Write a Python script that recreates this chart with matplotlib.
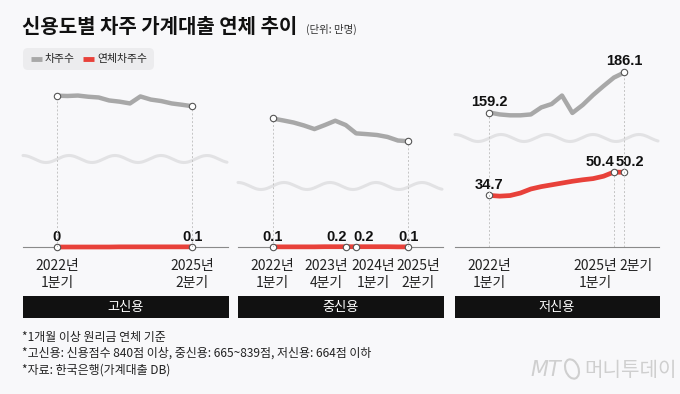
import numpy as np
import matplotlib
matplotlib.use("Agg")
import matplotlib.pyplot as plt
from matplotlib.patches import FancyBboxPatch, Rectangle, Ellipse

plt.rcParams['font.family'] = ['Noto Sans CJK KR', 'DejaVu Sans']

# ---------------- data (만명) ----------------
quarters = ["2022Q1", "2022Q2", "2022Q3", "2022Q4", "2023Q1", "2023Q2", "2023Q3",
            "2023Q4", "2024Q1", "2024Q2", "2024Q3", "2024Q4", "2025Q1", "2025Q2"]
panel_titles = ["고신용", "중신용", "저신용"]

high_borrowers = [1254.0, 1253.8, 1254.1, 1253.3, 1252.8, 1250.8, 1250.0,
                  1248.8, 1253.5, 1251.4, 1250.4, 1248.8, 1247.9, 1246.9]
high_delinquent = [0.0, 0.0, 0.0, 0.0, 0.0, 0.0, 0.1,
                   0.1, 0.1, 0.1, 0.1, 0.1, 0.1, 0.1]
mid_borrowers = [561.0, 559.7, 558.3, 556.3, 553.9, 556.6, 559.5,
                 556.6, 551.0, 550.5, 549.9, 548.6, 546.2, 545.7]
mid_delinquent = [0.1, 0.1, 0.1, 0.1, 0.1, 0.2, 0.2,
                  0.2, 0.2, 0.2, 0.2, 0.2, 0.1, 0.1]
low_borrowers = [159.2, 157.9, 157.3, 157.3, 157.9, 162.6, 164.9,
                 170.6, 158.9, 164.3, 171.0, 177.0, 182.7, 186.1]
low_delinquent = [34.7, 34.2, 34.6, 36.3, 39.0, 40.6, 41.8,
                  43.0, 44.2, 45.2, 46.0, 47.6, 50.4, 50.2]

# tick labels: (quarter index, text, x-shift px)
tick_labels = [
    [(0, "2022년\n1분기", 0), (13, "2025년\n2분기", 0)],
    [(0, "2022년\n1분기", 0), (7, "2023년\n4분기", -19), (8, "2024년\n1분기", 17), (13, "2025년\n2분기", 10)],
    [(0, "2022년\n1분기", 0), (12, "2025년\n1분기", -19), (13, "2분기", 12)],
]
# value labels: (series, index, dx px, dy px)
value_labels = [
    [("red", 0, 0, -10), ("red", 13, 0, -10)],
    [("red", 0, 0, -10), ("red", 7, -9, -10), ("red", 8, 7, -10), ("red", 13, 0, -10)],
    [("gray", 0, 0, -10), ("gray", 13, 0, -11.5), ("red", 0, 0, -10), ("red", 12, -14, -10), ("red", 13, 6, -10)],
]

# ---------------- layout ----------------
W, H = 680, 394
BG = '#f8f8fa'
GRAY = '#a8a8a8'
RED = '#e8413a'
S = 1.487           # px per 만명
AX_TOP, AX_BOT = 55, 247
NUM_FONT = ['Liberation Sans', 'Noto Sans CJK KR']
panels = [
    dict(L=23, R=228, x0=57.0, x13=192.5, g_y0=95.7, wave=159,
         g=high_borrowers, r=high_delinquent, red_marks=[0, 13], gray_marks=[0, 13],
         vlines_g=[0, 13], vlines_r=[]),
    dict(L=238, R=443, x0=272.7, x13=408.3, g_y0=118.5, wave=186,
         g=mid_borrowers, r=mid_delinquent, red_marks=[0, 7, 8, 13], gray_marks=[0, 13],
         vlines_g=[0, 13], vlines_r=[]),
    dict(L=455, R=659, x0=489.3, x13=624.3, g_y0=112.5, wave=138,
         g=low_borrowers, r=low_delinquent, red_marks=[0, 12, 13], gray_marks=[0, 13],
         vlines_g=[0, 13], vlines_r=[12]),
]

fig = plt.figure(figsize=(W / 100, H / 100), dpi=100, facecolor=BG)
ov = fig.add_axes([0, 0, 1, 1], zorder=0)
ov.set_xlim(0, W)
ov.set_ylim(H, 0)
ov.axis('off')

# title and unit
ov.text(22, 26, "신용도별 차주 가계대출 연체 추이", fontsize=14.4, fontweight='bold',
        color='#111111', va='center', ha='left')
ov.text(306, 29, "(단위: 만명)", fontsize=7.5, color='#333333', va='center', ha='left')

# legend
ov.add_patch(FancyBboxPatch((23, 48), 131, 22, boxstyle="round,pad=0,rounding_size=5",
                            fc='#ececee', ec='none'))
ov.plot([31, 42], [59, 59], color=GRAY, lw=3.5, solid_capstyle='butt')
ov.text(45, 59, "차주수", fontsize=7.8, va='center', ha='left', color='#222222')
ov.plot([83, 94], [59, 59], color=RED, lw=3.5, solid_capstyle='butt')
ov.text(97, 59, "연체차주수", fontsize=7.8, va='center', ha='left', color='#222222')

n = len(quarters)
idx = np.arange(n)
for k, p in enumerate(panels):
    L, R = p['L'], p['R']
    step = (p['x13'] - p['x0']) / (n - 1)
    rect = [L / W, 1 - AX_BOT / H, (R - L) / W, (AX_BOT - AX_TOP) / H]
    ax = fig.add_axes(rect, zorder=2)
    ax.patch.set_alpha(0)
    axg = ax.twinx()
    axg.patch.set_alpha(0)
    xl = (-(p['x0'] - L) / step, (n - 1) + (R - p['x13']) / step)
    ax.set_xlim(*xl)
    span = (AX_BOT - AX_TOP) / S
    ax.set_ylim(0, span)
    gbot = p['g'][0] - (AX_BOT - p['g_y0']) / S
    axg.set_ylim(gbot, gbot + span)
    for a in (ax, axg):
        for s in a.spines.values():
            s.set_visible(False)
        a.set_xticks([])
        a.set_yticks([])
    ax.spines['bottom'].set_visible(True)
    ax.spines['bottom'].set_color('#8a8a8a')
    ax.spines['bottom'].set_linewidth(0.8)

    # dotted guides
    for i in p['vlines_g']:
        axg.vlines(i, gbot, p['g'][i], colors='#c4c4c4', linestyles=(0, (2, 2)), lw=0.7, zorder=1)
    for i in p['vlines_r']:
        ax.vlines(i, 0, p['r'][i], colors='#c4c4c4', linestyles=(0, (2, 2)), lw=0.7, zorder=1)

    axg.plot(idx, p['g'], color=GRAY, lw=3.2, solid_joinstyle='round', solid_capstyle='round', zorder=3)
    ax.plot(idx, p['r'], color=RED, lw=3.4, solid_joinstyle='round', solid_capstyle='round',
            zorder=3, clip_on=False)
    gm = p['gray_marks']
    axg.plot(gm, [p['g'][i] for i in gm], 'o', ms=4.6, mfc='white', mec='#555555', mew=0.8, zorder=5)
    rm = p['red_marks']
    ax.plot(rm, [p['r'][i] for i in rm], 'o', ms=4.6, mfc='white', mec='#555555', mew=0.8,
            zorder=5, clip_on=False)

    # value labels
    for series, i, dx, dy in value_labels[k]:
        a = axg if series == 'gray' else ax
        v = p['g'][i] if series == 'gray' else p['r'][i]
        a.annotate(f"{v:g}", xy=(i, v), xytext=(dx, -dy), textcoords='offset pixels',
                   ha='center', va='center', fontsize=10.5, fontweight='bold',
                   family=NUM_FONT, color='#111111',
                   annotation_clip=False, zorder=6)

    # tick labels
    for i, txt, dx in tick_labels[k]:
        ax.annotate(txt, xy=(i, 0), xytext=(dx, -12), textcoords='offset pixels',
                    ha='center', va='top', multialignment='center', fontsize=10,
                    color='#222222', linespacing=1.25, annotation_clip=False)

    # wave break
    xs = np.linspace(L, R - 1, 300)
    ov.plot(xs, p['wave'] - 3.5 * np.cos(2 * np.pi * (xs - L) / 46), color='#e2e2e4',
            lw=2.2, solid_capstyle='round')

    # black category bar
    ov.add_patch(Rectangle((L, 296), R - L + 1, 22, fc='#111111', ec='none'))
    ov.text((L + R) / 2, 307, panel_titles[k], color='white', fontsize=9.5,
            ha='center', va='center')

# footnotes
notes = ["*1개월 이상 원리금 연체 기준",
         "*고신용: 신용점수 840점 이상, 중신용: 665~839점, 저신용: 664점 이하",
         "*자료: 한국은행(가계대출 DB)"]
for j, t in enumerate(notes):
    ov.text(22, 337 + 16.5 * j, t, fontsize=8.6, color='#222222', va='center', ha='left')

# logo
ov.text(530, 370, "MT", fontsize=15, style='italic', color='#cfcfcf', va='center', ha='left',
        family=['DejaVu Sans'])
ov.add_patch(Ellipse((572, 369), 13, 20, angle=-20, fc='none', ec='#cfcfcf', lw=1.5))
ov.text(584, 370, "머니투데이", fontsize=14.5, color='#cfcfcf', va='center', ha='left')

fig.savefig("out.png", dpi=100, facecolor=BG)
